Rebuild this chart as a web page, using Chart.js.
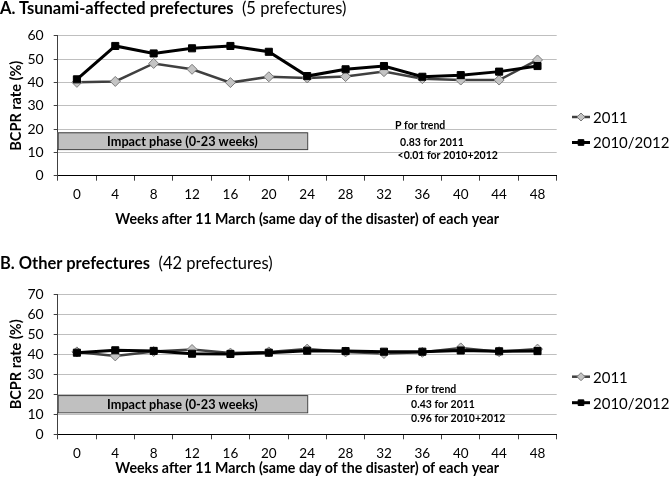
<!DOCTYPE html>
<html>
<head>
<meta charset="utf-8">
<script src="https://cdn.jsdelivr.net/npm/chart.js@4"></script>
<style>
  body { margin: 0; width: 672px; height: 485px; background: #fff; position: relative; overflow: hidden; font-family: Lato, sans-serif; }
  .wrap { position: absolute; left: 0; width: 672px; }
  #wrapA { top: 0; height: 240px; }
  #wrapB { top: 240px; height: 245px; }
  .panel-title { position: absolute; left: 0px; font-size: 16.5px; line-height: 18px; color: #000; white-space: nowrap; }
</style>
</head>
<body>
<div class="wrap" id="wrapA"><canvas id="chartA" width="672" height="240"></canvas></div>
<div class="wrap" id="wrapB"><canvas id="chartB" width="672" height="245"></canvas></div>
<div class="panel-title" style="top:-1px"><b>A. Tsunami-affected prefectures</b>&nbsp;&nbsp;(5 prefectures)</div>
<div class="panel-title" style="top:254px"><b>B. Other prefectures</b>&nbsp;&nbsp;(42 prefectures)</div>
<script>
// semanas tras el 11 de marzo
const weeks = ["0", "4", "8", "12", "16", "20", "24", "28", "32", "36", "40", "44", "48"];

// A. prefecturas afectadas por el tsunami
const tsunami2011 = [40.0, 40.4, 48.1, 45.6, 39.9, 42.4, 41.9, 42.5, 44.6, 41.6, 41.0, 41.0, 49.6];
const tsunami2010_2012 = [41.3, 55.6, 52.4, 54.6, 55.6, 53.1, 42.7, 45.6, 47.0, 42.4, 43.1, 44.6, 47.0];

// B. resto de prefecturas
const other2011 = [41.2, 39.2, 41.4, 42.4, 40.6, 41.2, 42.6, 41.2, 40.4, 41.0, 43.2, 41.3, 42.6];
const other2010_2012 = [40.8, 42.0, 41.7, 40.3, 40.2, 40.8, 41.8, 41.6, 41.3, 41.3, 41.9, 41.5, 41.6];

const yTicksA = [0, 10, 20, 30, 40, 50, 60];
const yTicksB = [0, 10, 20, 30, 40, 50, 60, 70];

const seriesNames = ["2011", "2010/2012"];
const trendA = ["P for trend", "  0.83 for 2011", " <0.01 for 2010+2012"];
const trendB = ["P for trend", "  0.43 for 2011", "  0.96 for 2010+2012"];

const FONT = "Lato, sans-serif";

// Dibujos extra: caja de fase, texto P y leyenda
const extras = {
  id: "extras",
  beforeDatasetsDraw(chart, args, o) {
    const { ctx, chartArea, scales } = chart;
    const x2 = scales.x.getPixelForValue(weeks.indexOf("24"));
    const y1 = scales.y.getPixelForValue(o.boxTop);
    const y2 = scales.y.getPixelForValue(o.boxBottom);
    ctx.save();
    ctx.fillStyle = "#c0c0c0";
    ctx.strokeStyle = "#404040";
    ctx.lineWidth = 1;
    ctx.fillRect(chartArea.left, y1, x2 - chartArea.left, y2 - y1);
    ctx.strokeRect(chartArea.left + 0.5, y1 + 0.5, x2 - chartArea.left, y2 - y1);
    ctx.fillStyle = "#000";
    ctx.font = "bold 12.7px " + FONT;
    ctx.textAlign = "center";
    ctx.textBaseline = "middle";
    ctx.fillText("Impact phase (0-23 weeks)", (chartArea.left + x2) / 2, (y1 + y2) / 2 + 1);
    ctx.restore();
  },
  afterDraw(chart, args, o) {
    const { ctx } = chart;
    ctx.save();
    ctx.fillStyle = "#000";
    ctx.font = "bold 10.5px " + FONT;
    ctx.textBaseline = "middle";
    o.trend.forEach((t, i) => ctx.fillText(t, o.trendX, o.trendY[i]));

    // leyenda: línea con marcador
    const sets = chart.data.datasets;
    o.legendY.forEach((ly, i) => {
      const ds = sets[i];
      ctx.strokeStyle = ds.borderColor;
      ctx.lineWidth = ds.borderWidth;
      ctx.beginPath();
      ctx.moveTo(o.legendX, ly);
      ctx.lineTo(o.legendX + 18, ly);
      ctx.stroke();
      ctx.fillStyle = ds.pointBackgroundColor;
      ctx.strokeStyle = ds.pointBorderColor;
      ctx.lineWidth = ds.pointBorderWidth;
      Chart.helpers.drawPoint(ctx, { pointStyle: ds.pointStyle, radius: ds.pointRadius - 1, borderWidth: ds.pointBorderWidth, rotation: 0 }, o.legendX + 9, ly);
      ctx.fillStyle = "#000";
      ctx.font = "15px " + FONT;
      ctx.textBaseline = "middle";
      ctx.fillText(ds.label, o.legendX + 21, ly + 1);
    });
    ctx.restore();
  }
};

function makePanel(id, s2011, s2010, yTicks, cfg) {
  return new Chart(document.getElementById(id), {
    type: "line",
    data: {
      labels: weeks,
      datasets: [
        {
          label: seriesNames[0], data: s2011, order: 1,
          borderColor: "#404040", borderWidth: 2.5,
          pointStyle: "rectRot", pointRadius: 5,
          pointBackgroundColor: "#c4c4c4", pointBorderColor: "#7a7a7a", pointBorderWidth: 1
        },
        {
          label: seriesNames[1], data: s2010, order: 0,
          borderColor: "#000", borderWidth: 3,
          pointStyle: "rect", pointRadius: 5,
          pointBackgroundColor: "#000", pointBorderColor: "#000", pointBorderWidth: 1
        }
      ]
    },
    options: {
      responsive: false,
      animation: false,
      layout: { padding: { top: cfg.padTop, right: 115.3, left: 0, bottom: 0 } },
      plugins: {
        legend: { display: false },
        tooltip: { enabled: false },
        extras: cfg.extras
      },
      scales: {
        x: {
          type: "category",
          offset: true,
          grid: { drawOnChartArea: false, offset: true, tickLength: 5, tickColor: "#404040" },
          border: { color: "#000", width: 1 },
          ticks: { color: "#000", font: { family: FONT, size: 13.5 }, maxRotation: 0, autoSkip: false, padding: cfg.xTickPad },
          title: {
            display: true,
            text: "Weeks after 11 March (same day of the disaster) of each year",
            color: "#000",
            font: { family: FONT, size: 14.2, weight: "bold" },
            padding: { top: 0, bottom: cfg.xTitlePad }
          },
          afterFit: s => { s.height = cfg.xHeight; }
        },
        y: {
          min: yTicks[0],
          max: yTicks[yTicks.length - 1],
          grid: { color: "#bfbfbf", tickLength: 4, tickColor: "#404040" },
          border: { color: "#404040", width: 1 },
          ticks: { stepSize: 10, color: "#000", font: { family: FONT, size: 14 }, padding: 10 },
          title: {
            display: true,
            text: "BCPR rate (%)",
            color: "#000",
            font: { family: FONT, size: 14.5, weight: "bold" },
            padding: { top: 7.3, bottom: 0 }
          },
          afterFit: s => { s.width = 57.7; }
        }
      }
    },
    plugins: [extras]
  });
}

makePanel("chartA", tsunami2011, tsunami2010_2012, yTicksA, {
  padTop: 35.7, xHeight: 64.3, xTitlePad: 12.5, xTickPad: 6,
  extras: {
    boxTop: 18.6, boxBottom: 11.4,
    trend: trendA, trendX: 395, trendY: [126, 142.5, 155.5],
    legendX: 572, legendY: [117, 142.5]
  }
});

makePanel("chartB", other2011, other2010_2012, yTicksB, {
  padTop: 54.3, xHeight: 50.7, xTitlePad: 7.8, xTickPad: 6,
  extras: {
    boxTop: 19.6, boxBottom: 11,
    trend: trendB, trendX: 406, trendY: [150, 164.5, 179],
    legendX: 572, legendY: [136.7, 162.7]
  }
});
</script>
</body>
</html>
